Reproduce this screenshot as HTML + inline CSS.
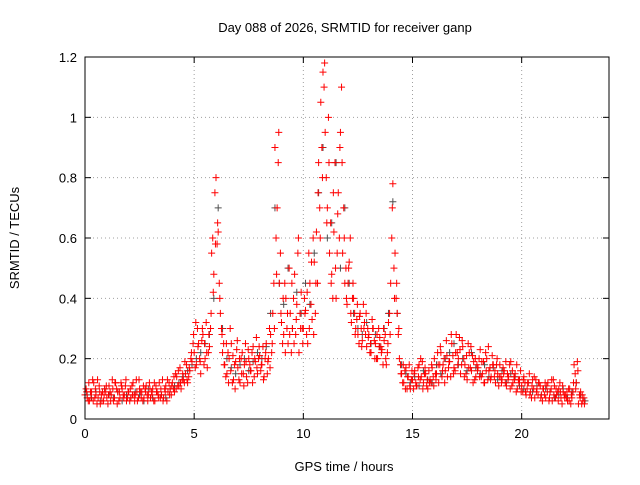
<!DOCTYPE html>
<html><head><meta charset="utf-8"><style>
body{margin:0;background:#fff;}
svg text{font-family:"Liberation Sans",sans-serif;font-size:13px;fill:#000;}
</style></head><body>
<svg id="chart" width="640" height="480">
<rect width="640" height="480" fill="#fff"/>
<text x="345" y="32" text-anchor="middle" font-size="14">Day 088 of 2026, SRMTID for receiver ganp</text>
<text x="344" y="471" text-anchor="middle">GPS time / hours</text>
<text transform="translate(19,238) rotate(-90)" text-anchor="middle">SRMTID / TECUs</text>
<g id="grid"></g><g id="ticks"></g><g id="gray"></g><g id="red"></g>
<rect x="85" y="57" width="524" height="362" fill="none" stroke="#000" stroke-width="1"/>
</svg>
<script>
const xTicks=[0,5,10,15,20];
const yTicks=[0,0.2,0.4,0.6,0.8,1,1.2];
const yTickLabels=["0","0.2","0.4","0.6","0.8","1","1.2"];
const redA=[.08,.07,.06,.09,.12,.08,.07,.05,.09,.10,.07,.11,.08,.06,.12,.09,.07,.10,.08,.06,.09,.07,.12,.08,.06,.10,.09,.07,.11,.08,.07,.10,.06,.09,.12,.08,.07,.11,.09,.10,.12,.09,.14,.11,.10,.13,.15,.12,.16,.19,.22,.18,.25,.15,.28,.20,.17,.24,.55,.48,.80,.62,.35,.22,.18,.15,.20,.25,.13,.19,.17,.12,.22,.18,.14,.20,.16,.24,.19,.15,.21,.18,.14,.25,.20,.28,.35,.90,.70,.45,.32,.28,.40,.25,.35,.30,.48,.38,.22,.42,.30,.36,.25,.45,.33,.52,.62,.85,1.05,1.15,.95,.70,.55,.48,.62,.40,.75,.95,.55,.45,.38,.52,.32,.40,.30,.28,.35,.26,.32,.24,.28,.22,.30,.25,.20,.27,.23,.26,.18,.32,.45,.78,.55,.35,.20,.15,.12,.17,.14,.10,.13,.16,.11,.18,.14,.12,.15,.10,.13,.17,.20,.15,.12,.22,.18,.16,.14,.19,.25,.17,.28,.20,.15,.24,.18,.13,.22,.16,.19,.14,.17,.23,.15,.12,.20,.16,.14,.18,.12,.15,.18,.13,.16,.11,.14,.19,.12,.15,.10,.13,.11,.14,.08,.12,.09,.13,.07,.10,.12,.08,.10,.07,.12,.09,.06,.11,.08,.10,.07,.09,.08,.06,.10,.07,.18,.12,.05,.09,.06];
const redB=[.10,.06,.09,.13,.07,.05,.11,.08,.06,.09,.05,.09,.13,.07,.10,.06,.12,.08,.11,.07,.06,.11,.08,.13,.07,.09,.06,.10,.08,.12,.09,.06,.11,.08,.07,.13,.10,.06,.12,.08,.10,.15,.11,.17,.13,.12,.18,.14,.20,.25,.17,.30,.20,.26,.18,.32,.22,.30,.60,.75,.58,.45,.30,.25,.14,.22,.30,.12,.18,.23,.13,.20,.15,.25,.12,.18,.22,.14,.27,.20,.16,.24,.20,.15,.30,.22,.45,.60,.85,.55,.25,.45,.30,.50,.22,.40,.28,.55,.35,.30,.40,.28,.55,.38,.60,.35,.45,.70,.90,1.10,.80,1.00,.65,.40,.85,.55,.60,1.10,.70,.50,.45,.60,.40,.35,.33,.25,.30,.38,.28,.30,.22,.33,.26,.20,.30,.24,.18,.28,.22,.35,.60,.50,.40,.28,.18,.12,.16,.10,.18,.13,.10,.12,.17,.13,.19,.15,.11,.16,.12,.14,.15,.22,.18,.14,.20,.26,.17,.14,.21,.16,.22,.27,.18,.20,.15,.25,.17,.21,.13,.18,.20,.14,.19,.22,.13,.17,.21,.14,.18,.11,.14,.17,.12,.15,.18,.11,.14,.09,.13,.16,.09,.12,.10,.15,.07,.10,.13,.08,.11,.06,.08,.11,.06,.10,.13,.07,.09,.12,.05,.08,.07,.10,.05,.09,.15,.19,.08,.05,.07];
const redC=[.09,.12,.07,.06,.10,.13,.09,.06,.08,.11,.08,.06,.10,.12,.05,.09,.11,.07,.13,.09,.10,.08,.06,.09,.13,.07,.11,.09,.06,.10,.08,.12,.09,.07,.10,.06,.09,.13,.08,.11,.14,.10,.16,.12,.15,.19,.13,.17,.22,.28,.32,.24,.19,.30,.25,.22,.28,.35,.42,.58,.65,.40,.28,.18,.25,.12,.16,.21,.10,.26,.20,.15,.11,.19,.23,.16,.12,.20,.17,.24,.18,.13,.22,.19,.17,.25,.30,.48,.95,.35,.40,.22,.35,.28,.45,.25,.33,.60,.30,.25,.35,.42,.30,.52,.28,.45,.75,.60,.80,1.18,.65,.85,.45,.75,.50,.68,.90,.85,.60,.40,.50,.35,.45,.28,.38,.34,.24,.30,.35,.27,.25,.30,.20,.28,.24,.22,.30,.20,.25,.28,.70,.40,.45,.30,.15,.18,.10,.14,.11,.16,.15,.11,.14,.20,.10,.17,.13,.12,.18,.11,.13,.18,.24,.16,.12,.21,.19,.28,.15,.22,.18,.23,.26,.14,.21,.17,.24,.12,.20,.16,.14,.19,.12,.16,.24,.13,.18,.16,.20,.14,.12,.15,.19,.13,.10,.16,.13,.18,.12,.09,.13,.09,.12,.08,.11,.14,.09,.12,.07,.10,.12,.09,.07,.13,.08,.10,.06,.09,.11,.07,.09,.06,.08,.12,.10,.16,.07,.08,.05];
const grayC=[.08,.07,.09,.06,.10,.08,.07,.09,.06,.08,.07,.09,.08,.06,.10,.07,.09,.08,.07,.10,.11,.12,.14,.16,.18,.20,.22,.25,.28,.40,.70,.30,.20,.17,.15,.18,.20,.16,.19,.22,.20,.24,.35,.70,.45,.38,.50,.30,.42,.35,.45,.38,.55,.75,.90,.60,.65,.85,.50,.70,.45,.35,.30,.28,.32,.25,.28,.24,.30,.35,.72,.35,.18,.15,.12,.14,.11,.16,.13,.12,.18,.15,.20,.22,.25,.18,.20,.16,.22,.17,.15,.18,.14,.17,.13,.16,.12,.15,.14,.11,.10,.12,.09,.11,.08,.10,.09,.07,.08,.10,.07,.09,.12,.08,.06];
const X0=85,X1=609,Y0=419,Y1=57;
const xs=h=>X0+h/24*(X1-X0);
const ys=v=>Y0-v/1.2*(Y0-Y1);
const NS="http://www.w3.org/2000/svg";
function mk(tag,attrs,parent){const e=document.createElementNS(NS,tag);for(const k in attrs)e.setAttribute(k,attrs[k]);parent.appendChild(e);return e;}
const grid=document.getElementById('grid'),ticks=document.getElementById('ticks');
xTicks.forEach(t=>{const x=xs(t);
 if(t>0){const g=mk('line',{x1:x,x2:x,y1:Y0,y2:Y1,stroke:'#a0a0a0','stroke-dasharray':'1,3'},grid);
 
 }
 mk('line',{x1:x,x2:x,y1:Y0,y2:Y0-6,stroke:'#000'},ticks);
 mk('line',{x1:x,x2:x,y1:Y1,y2:Y1+6,stroke:'#000'},ticks);
 const l=mk('text',{x:x,y:Y0+19,'text-anchor':'middle'},ticks);l.textContent=t;
 
 });
yTicks.forEach((t,i)=>{const y=ys(t);
 if(t>0&&t<1.2){const g=mk('line',{x1:X0,x2:X1,y1:y,y2:y,stroke:'#a0a0a0','stroke-dasharray':'1,3'},grid);
 
 }
 mk('line',{x1:X0,x2:X0+6,y1:y,y2:y,stroke:'#000'},ticks);
 mk('line',{x1:X1,x2:X1-6,y1:y,y2:y,stroke:'#000'},ticks);
 const l=mk('text',{x:X0-8,y:y+5,'text-anchor':'end'},ticks);l.textContent=yTickLabels[i];
 
 });
function plus(g,h,v,col,name){const x=xs(h),y=ys(v);
 const p=mk('path',{d:`M${x-3.5},${y}h7M${x},${y-3.5}v7`,stroke:col,'stroke-width':1},g);
 
 }
const gG=document.getElementById('gray'),gR=document.getElementById('red');
grayC.forEach((v,i)=>plus(gG,i*0.2+0.1,v,'#505050','gray-point'));
redA.forEach((v,i)=>plus(gR,i*0.1,v,'#ff0000','red-point'));
redB.forEach((v,i)=>plus(gR,i*0.1+0.05,v,'#ff0000','red-point'));
redC.forEach((v,i)=>plus(gR,i*0.1+0.075,v,'#ff0000','red-point'));
</script>
</body></html>
